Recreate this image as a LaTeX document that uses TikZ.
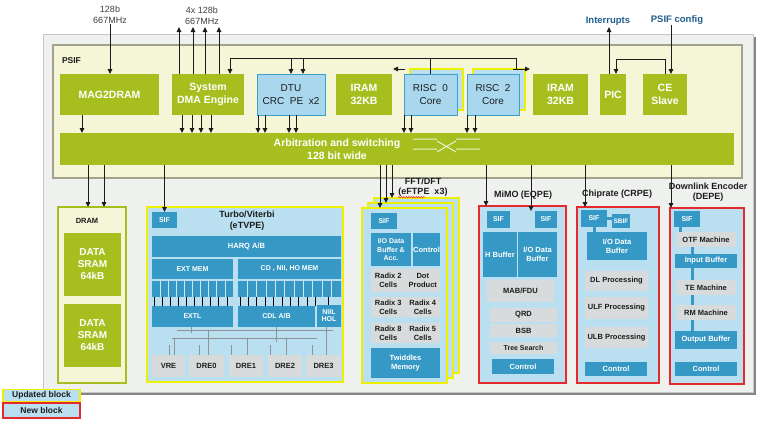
\documentclass[tikz,border=0pt]{standalone}
\usepackage{fontspec}
\setmainfont{Liberation Sans}
\usepackage{tikz}
\usetikzlibrary{arrows.meta,shapes,positioning,calc,decorations.pathmorphing}
\usepackage{xcolor}

\definecolor{psgreen}{HTML}{A7BF1E}
\definecolor{psifbg}{HTML}{F5F5D8}
\definecolor{psifline}{HTML}{A3A38C}
\definecolor{chipbg}{HTML}{EEF1EE}
\definecolor{chipline}{HTML}{C4C7C4}
\definecolor{chipshadow}{HTML}{858585}
\definecolor{coreblue}{HTML}{A9D8EE}
\definecolor{coreline}{HTML}{3E9FCB}
\definecolor{subbg}{HTML}{B9DFF0}
\definecolor{midblue}{HTML}{3598C5}
\definecolor{cellgray}{HTML}{D8DBDB}
\definecolor{updyellow}{HTML}{EEF000}
\definecolor{newred}{HTML}{E52A2E}
\definecolor{labelblue}{HTML}{1F5E8C}
\definecolor{ink}{HTML}{1C1C1C}
\definecolor{busgray}{HTML}{8C9496}

\begin{document}
\begin{tikzpicture}[
    x=1pt, y=-1pt,
    every node/.style={inner sep=0pt, outer sep=0pt, align=center},
    wh/.style 2 args={minimum width=#1pt, minimum height=#2pt},
    greenbox/.style={fill=psgreen, text=white,
        font=\bfseries\fontsize{10.5}{13}\selectfont},
    corebox/.style={fill=coreblue, draw=coreline, line width=1pt, text=ink,
        font=\fontsize{10}{13}\selectfont},
    coreback/.style={fill=coreblue!80!white, draw=updyellow, line width=1.5pt},
    blockbox/.style={fill=subbg, line width=1.5pt},
    updblk/.style={draw=updyellow},
    newblk/.style={draw=newred},
    bluecell/.style={fill=midblue, text=white,
        font=\bfseries\fontsize{7.5}{9}\selectfont},
    graycell/.style={fill=cellgray, text=ink,
        font=\bfseries\fontsize{7.5}{9}\selectfont},
    blocktitle/.style={text=ink, font=\bfseries\fontsize{9}{10}\selectfont},
    ratelbl/.style={text=ink!85, font=\fontsize{9}{11}\selectfont},
    pinlbl/.style={text=labelblue, font=\bfseries\fontsize{9.5}{11}\selectfont},
    arr/.style={-{Triangle[length=5pt,width=4.5pt]}, line width=0.9pt, draw=ink},
    plain/.style={line width=0.9pt, draw=ink},
    link/.style={draw=midblue, line width=3pt},
    busline/.style={draw=busgray, line width=0.9pt},
    tickmark/.style={draw=black, line width=0.8pt},
    legendbox/.style={fill=subbg, line width=1.5pt, text=ink,
        font=\bfseries\fontsize{8.5}{10}\selectfont}
]
\useasboundingbox (0,0) rectangle (763,429);

% ---------------- Chip and PSIF ----------------
\node[fill=chipshadow, wh={710}{358}] (chipsh) at (401,216) {};
\node[fill=chipbg, draw=chipline, line width=1pt, wh={710}{358}] (chip) at (398,213) {};
\node[fill=psifbg, draw=psifline, line width=1.5pt, wh={689}{133}] (psif) at (397.5,111.5) {};
\node[anchor=west, text=ink, font=\bfseries\fontsize{8.5}{10}\selectfont] (psiflbl) at (62,61) {PSIF};

\node[greenbox, wh={99}{41}] (mag) at (109.5,94.5) {MAG2DRAM};
\node[greenbox, wh={72}{41}] (dma) at (208,94.5) {System\\DMA Engine};
\node[corebox, wh={68}{41}] (dtu) at (291,94.5) {DTU\\CRC~~PE~~x2};
\node[greenbox, wh={56}{41}] (iramA) at (364,94.5) {IRAM\\32KB};
\node[coreback, wh={53}{41}] (risc0b) at (436.5,89.5) {};
\node[corebox, wh={53}{41}] (risc0) at (430.5,94.5) {RISC~~0\\Core};
\node[coreback, wh={52}{41}] (risc2b) at (499,89.5) {};
\node[corebox, wh={52}{41}] (risc2) at (493,94.5) {RISC~~2\\Core};
\node[greenbox, wh={55}{41}] (iramB) at (560.5,94.5) {IRAM\\32KB};
\node[greenbox, wh={26}{41}] (pic) at (613,94.5) {PIC};
\node[greenbox, wh={44}{41}] (ce) at (665,94.5) {CE\\Slave};

\node[fill=psgreen, wh={674}{32}] (arb) at (397,149) {};
\node[text=white, font=\bfseries\fontsize{10.5}{13}\selectfont] (arbtxt) at (337,149)
    {Arbitration and switching\\128 bit wide};
\draw[white!80!psgreen, line width=1pt]
    (413,139) -- (437,139) (413,149) -- (437,149)
    (437,141) -- (456,152) (437,152) -- (456,141)
    (456,139) -- (480,139) (456,149) -- (480,149);

% ---------------- PSIF connections ----------------
\node[ratelbl] (rate1) at (110,15) {128b\\667MHz};
\draw[arr] (rate1.south) -- (rate1.south |- mag.north);
\node[ratelbl] (rate4) at (202,16) {4x 128b\\667MHz};
\foreach \s in {-29,-15,-3,11}
    \draw[arr] ([xshift=\s pt]dma.north) -- ++(0,-47);

\coordinate (busL) at (230,58);
\coordinate (busR) at (516,58);
\draw[plain] (busL) -- (busR) -- ++(0,11);
\draw[arr] (busL) -- (busL |- dma.north);
\draw[arr] (dtu.north |- busL) -- (dtu.north);
\draw[arr] ([xshift=12pt]dtu.north) ++(0,-16) -- ++(0,16);
\draw[plain] (risc0.north |- busL) -- (risc0.north);
\draw[arr] ([xshift=-31.5pt]risc0b.north) -- ++(-12,0);
\draw[arr] ([xshift=14pt]risc2b.north) -- ++(17,0);

\draw[arr] ([xshift=-27.5pt]mag.south) -- ++(0,18);
\foreach \s in {-26,-16,-7,3}
    \draw[arr] ([xshift=\s pt]dma.south) -- ++(0,18);
\foreach \s in {-33,-26,-2,5}
    \draw[arr] ([xshift=\s pt]dtu.south) -- ++(0,18);
\foreach \s in {-26.5,-19.5}
    \draw[arr] ([xshift=\s pt]risc0.south) -- ++(0,18);
\foreach \s in {-26,-18}
    \draw[arr] ([xshift=\s pt]risc2.south) -- ++(0,18);

\node[pinlbl] (intr) at (608,21) {Interrupts};
\node[pinlbl] (psifcfg) at (677,20) {PSIF config};
\draw[arr] ([xshift=-4pt]pic.north) -- ++(0,-47);
\draw[arr] ([xshift=6pt]ce.north) ++(0,-49) -- ++(0,49);
\draw[arr] (ce.north) -- ++(0,-15) -| ([xshift=3pt]pic.north);

% ---------------- DRAM ----------------
\node[fill=psifbg, draw=psgreen, line width=1.2pt, wh={68}{176}] (dram) at (92,295) {};
\node[text=ink, font=\bfseries\fontsize{7.5}{9}\selectfont] (dramlbl) at (87,221) {DRAM};
\node[greenbox, font=\bfseries\fontsize{10}{12}\selectfont, wh={57}{63}] (sramA) at (92.5,264.5) {DATA\\SRAM\\64kB};
\node[greenbox, font=\bfseries\fontsize{10}{12}\selectfont, wh={57}{63}] (sramB) at (92.5,335.5) {DATA\\SRAM\\64kB};

% ---------------- Turbo/Viterbi ----------------
\node[blockbox, updblk, wh={196}{175}] (turbo) at (245,294.5) {};
\node[bluecell, font=\bfseries\fontsize{7}{8}\selectfont, wh={25}{16}] (tsif) at (164.5,220) {SIF};
\node[blocktitle, font=\bfseries\fontsize{9}{11}\selectfont] (turbottl) at (247,220.5) {Turbo/Viterbi\\(eTVPE)};
\node[bluecell, wh={189}{21}] (harq) at (246.5,246.5) {HARQ A/B};
\node[bluecell, font=\bfseries\fontsize{7}{8}\selectfont, wh={81}{20}] (extmem) at (192.5,269) {EXT MEM};
\node[bluecell, wh={81}{16.5}] (extgrid) at (192.5,288.75) {};
\node[bluecell, font=\bfseries\fontsize{7}{8}\selectfont, wh={103}{20}] (cdmem) at (289.5,269) {CD , NII, HO MEM};
\node[bluecell, wh={103}{16.5}] (cdgrid) at (289.5,288.75) {};
\node[bluecell, font=\bfseries\fontsize{7}{8}\selectfont, wh={81}{21}] (extl) at (192.5,316.5) {EXTL};
\node[bluecell, font=\bfseries\fontsize{7}{8}\selectfont, wh={77}{21}] (cdl) at (276.5,316.5) {CDL A/B};
\node[bluecell, font=\bfseries\fontsize{7}{7}\selectfont, wh={24}{22}] (niil) at (329,316) {NIIL\\HOL};
\foreach \i in {1,...,9}
    \draw[white!75!midblue, line width=0.8pt] ([xshift=\i*8.1pt]extgrid.north west) -- ([xshift=\i*8.1pt]extgrid.south west);
\foreach \i in {1,...,10}
    \draw[white!75!midblue, line width=0.8pt] ([xshift=\i*9.36pt]cdgrid.north west) -- ([xshift=\i*9.36pt]cdgrid.south west);
\foreach \i in {0,...,9}
    \draw[tickmark] ([xshift=\i*8.07pt+2.3pt]extgrid.south west) -- ([xshift=\i*8.07pt+2.3pt]extl.north west);
\foreach \i in {0,...,9}
    \draw[tickmark] ([xshift=\i*8.4pt+2pt]cdgrid.south west) -- ([xshift=\i*8.4pt+2pt]cdl.north west);
\draw[tickmark] ([xshift=11pt]niil.north west) ++(0,-8) -- ([xshift=11pt]niil.north west);

\node[graycell, wh={33}{22}] (vre) at (168.5,366) {VRE};
\node[graycell, wh={35}{22}] (dre0) at (206.5,366) {DRE0};
\node[graycell, wh={34}{22}] (dre1) at (246,366) {DRE1};
\node[graycell, wh={34}{22}] (dre2) at (285,366) {DRE2};
\node[graycell, wh={35}{22}] (dre3) at (323.5,366) {DRE3};
\draw[busline] (177,330) -- (333,330);
\draw[busline] (172,338) -- (317,338);
\draw[busline] ([xshift=-1.5pt]extl.south) -- ++(0,6);
\draw[busline] ([xshift=-0.5pt]cdl.south) -- ++(0,15);
\draw[busline] ([xshift=-3pt]niil.south) -- ([xshift=2.5pt]dre3.north);
\draw[busline] ([xshift=0.5pt]vre.north) -- ++(0,-10);
\draw[busline] ([xshift=5.5pt]vre.north) -- ++(0,-17);
\draw[busline] ([xshift=-7.5pt]dre0.north) -- ++(0,-10);
\draw[busline] ([xshift=1.5pt]dre0.north) -- ++(0,-25);
\draw[busline] ([xshift=-15pt]dre1.north) -- ++(0,-10);
\draw[busline] ([xshift=1pt]dre1.north) -- ++(0,-17);
\draw[busline] ([xshift=-15pt]dre2.north) -- ++(0,-10);
\draw[busline] ([xshift=1pt]dre2.north) -- ++(0,-17);
\draw[busline] ([xshift=-11.5pt]dre3.north) -- ++(0,-10);

% ---------------- FFT/DFT ----------------
\node[blockbox, updblk, wh={85}{175}] (fft3) at (416.5,285.5) {};
\node[blockbox, updblk, wh={85}{175}] (fft2) at (410.5,290.5) {};
\node[blockbox, updblk, wh={85}{175}] (fft1) at (404.5,295.5) {};
\node[blocktitle] (fftttl) at (423,187) {FFT/DFT\\(eFTPE~~x3)};
\draw[newred, line width=0.5pt, decorate, decoration={snake, amplitude=0.8pt, segment length=2.5pt}]
    ([xshift=-25pt,yshift=-1pt]fftttl.south) -- ([xshift=2pt,yshift=-1pt]fftttl.south);
\node[bluecell, font=\bfseries\fontsize{7}{8}\selectfont, wh={26}{16}] (fsif) at (384,221) {SIF};
\node[bluecell, font=\bfseries\fontsize{7}{8.5}\selectfont, wh={40}{33}] (fio) at (391,249.5) {I/O Data\\Buffer \&\\Acc.};
\node[bluecell, wh={27}{33}] (fctl) at (426.5,249.5) {Control};
\node[graycell, wh={34.5}{23}] (rdx2) at (388.25,280.5) {Radix 2\\Cells};
\node[graycell, wh={34.5}{23}] (dotp) at (422.75,280.5) {Dot\\Product};
\node[graycell, wh={34.5}{20}] (rdx3) at (388.25,307) {Radix 3\\Cells};
\node[graycell, wh={34.5}{20}] (rdx4) at (422.75,307) {Radix 4\\Cells};
\node[graycell, wh={34.5}{20}] (rdx8) at (388.25,333) {Radix 8\\Cells};
\node[graycell, wh={34.5}{20}] (rdx5) at (422.75,333) {Radix 5\\Cells};
\node[bluecell, wh={69}{30}] (twid) at (405.5,363) {Twiddles\\Memory};

% ---------------- MiMO ----------------
\node[blockbox, newblk, wh={87}{177}] (mimo) at (522.5,294.5) {};
\node[blocktitle] (mimottl) at (523,195) {MiMO (EQPE)};
\node[bluecell, font=\bfseries\fontsize{7}{8}\selectfont, wh={23}{17}] (msifL) at (498.5,219.5) {SIF};
\node[bluecell, font=\bfseries\fontsize{7}{8}\selectfont, wh={22}{17}] (msifR) at (546,219.5) {SIF};
\node[bluecell, wh={34}{45}] (hbuf) at (500,254.5) {H Buffer};
\node[bluecell, wh={39}{45}] (mio) at (537.5,254.5) {I/O Data\\Buffer};
\node[graycell, wh={67}{22}] (mab) at (520.5,291) {MAB/FDU};
\node[graycell, wh={67}{14}] (qrd) at (523.5,315) {QRD};
\node[graycell, wh={67}{13}] (bsb) at (523.5,330.5) {BSB};
\node[graycell, font=\bfseries\fontsize{7}{8}\selectfont, wh={67}{12}] (tsrch) at (523.5,348) {Tree Search};
\node[bluecell, wh={62}{15}] (mctl) at (523,366.5) {Control};

% ---------------- Chiprate ----------------
\node[blockbox, newblk, wh={82}{176}] (crpe) at (618,295) {};
\node[blocktitle] (crpettl) at (617,194) {Chiprate (CRPE)};
\node[bluecell, font=\bfseries\fontsize{7}{8}\selectfont, wh={26}{17}] (csif) at (594,218.5) {SIF};
\node[bluecell, font=\bfseries\fontsize{6.5}{8}\selectfont, wh={18}{14}] (csbif) at (621,221) {SBIF};
\node[bluecell, wh={60}{28}] (cio) at (617,246) {I/O Data\\Buffer};
\node[graycell, wh={63}{20}] (dlp) at (616.5,281) {DL Processing};
\node[graycell, wh={63}{22}] (ulf) at (616.5,308) {ULF Processing};
\node[graycell, wh={63}{21}] (ulb) at (616.5,337.5) {ULB Processing};
\node[bluecell, wh={62}{14}] (cctl) at (616,369) {Control};
\draw[link] (csif.east) -- (csif.east -| csbif.west);
\draw[link] (csif.south) -- (csif.south |- cio.north);

% ---------------- Downlink Encoder ----------------
\node[blockbox, newblk, wh={74}{176}] (depe) at (707,296) {};
\node[blocktitle] (depettl) at (708,192) {Downlink Encoder\\(DEPE)};
\node[bluecell, font=\bfseries\fontsize{7}{8}\selectfont, wh={26}{16}] (dsif) at (687,219) {SIF};
\node[graycell, wh={60}{15}] (otf) at (706,239.5) {OTF Machine};
\node[bluecell, wh={62}{14}] (inbuf) at (706,261) {Input Buffer};
\node[graycell, wh={60}{15}] (tem) at (706,287.5) {TE Machine};
\node[graycell, wh={60}{15}] (rmm) at (706,312.5) {RM Machine};
\node[bluecell, wh={62}{18}] (outbuf) at (706,340) {Output Buffer};
\node[bluecell, wh={62}{14}] (dctl) at (706,369) {Control};
\draw[link] ([xshift=-7pt]dsif.south) -- ([xshift=-26pt]otf.north);
\foreach \a/\b in {otf/inbuf,inbuf/tem,tem/rmm,rmm/outbuf}
    \draw[link] ([xshift=-14pt]\a.south) -- ([xshift=-14pt]\b.north);

% ---------------- Bus to blocks ----------------
\draw[arr] ([xshift=-4pt]dram.north) ++(0,-42) -- ++(0,42);
\draw[arr] ([xshift=12pt]dram.north) ++(0,-42) -- ++(0,42);
\draw[arr] (tsif.north |- arb.south) -- (tsif.north);
\draw[arr] ([xshift=-24.5pt]fft1.north) ++(0,-43) -- ++(0,43);
\draw[arr] ([xshift=-24.5pt]fft2.north) ++(0,-38) -- ++(0,38);
\draw[arr] ([xshift=-24.5pt]fft3.north) ++(0,-33) -- ++(0,33);
\draw[arr] ([xshift=7pt]mimo.north west) ++(0,-41) -- ++(0,41);
\draw[arr] ([xshift=-15pt]msifR.north) ++(0,-46) -- ++(0,46);
\draw[arr] ([xshift=8pt]crpe.north west) ++(0,-42) -- ++(0,42);
\draw[arr] ([xshift=1pt]depe.north west) ++(0,-43) -- ++(0,43);

% ---------------- Legend ----------------
\node[legendbox, updblk, wh={77}{12}] (updleg) at (41.5,395.5) {Updated block};
\node[legendbox, newblk, wh={77}{15}, below=1.5pt of updleg] (newleg) {New block};

\end{tikzpicture}
\end{document}
